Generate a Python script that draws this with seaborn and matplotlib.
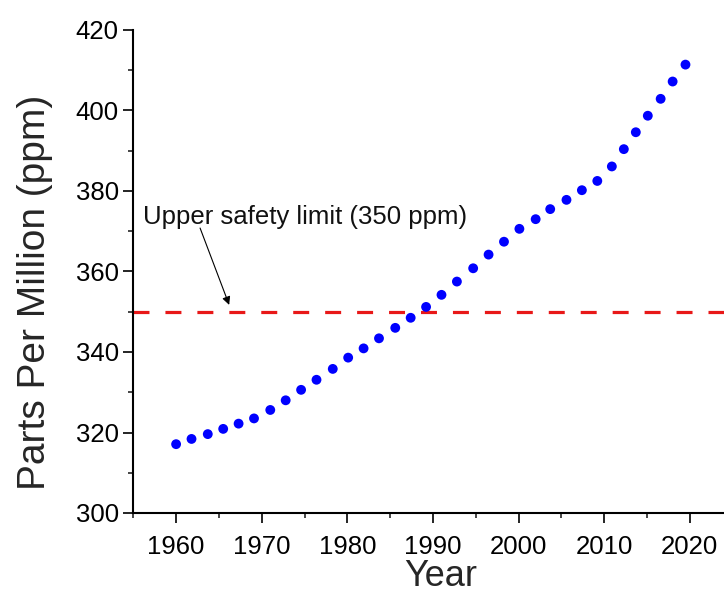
import matplotlib
matplotlib.use("Agg")
import matplotlib.pyplot as plt
from matplotlib.ticker import MultipleLocator
import pandas as pd
import seaborn as sns

# Atmospheric CO2 concentration, 1960-2020
years = [1960.0, 1961.8, 1963.7, 1965.5, 1967.3, 1969.1, 1971.0, 1972.8, 1974.6,
         1976.4, 1978.3, 1980.1, 1981.9, 1983.7, 1985.6, 1987.4, 1989.2, 1991.0,
         1992.8, 1994.7, 1996.5, 1998.3, 2000.1, 2002.0, 2003.7, 2005.6, 2007.4,
         2009.2, 2010.9, 2012.3, 2013.7, 2015.1, 2016.6, 2018.0, 2019.5]
ppm = [317.1, 318.4, 319.6, 320.9, 322.2, 323.5, 325.6, 328.0, 330.6,
       333.1, 335.8, 338.6, 340.9, 343.4, 346.0, 348.5, 351.2, 354.2,
       357.5, 360.8, 364.2, 367.4, 370.6, 373.0, 375.5, 377.8, 380.2,
       382.5, 386.1, 390.4, 394.6, 398.7, 402.9, 407.2, 411.4]

safety_limit = 350
limit_label = "Upper safety limit (350 ppm)"
x_ticks = [1960, 1970, 1980, 1990, 2000, 2010, 2020]
y_ticks = [300, 320, 340, 360, 380, 400, 420]

df = pd.DataFrame({"Year": years, "ppm": ppm})

sns.set_style("ticks")
plt.rcParams["font.family"] = ["Liberation Sans", "DejaVu Sans"]

fig = plt.figure(figsize=(7.24, 5.93), dpi=100)
ax = fig.add_axes([133.3 / 724, 1 - 513 / 593, (724 - 133.3) / 724, (513 - 30) / 593])

ax.axhline(safety_limit, color="#e81818", lw=2.3, dashes=(5, 5), zorder=1)
sns.scatterplot(data=df, x="Year", y="ppm", ax=ax, color="#0000ff", s=50,
                edgecolor="none", linewidth=0, zorder=3)

# label text and a thin pointer down to the limit line
ax.text(1956.15, 371.7, limit_label, fontsize=18.5, ha="left", va="baseline",
        color="#111111")
ax.annotate("", xy=(1966.2, 351.7), xytext=(1962.8, 370.8),
            arrowprops=dict(arrowstyle="-|>", color="black", lw=0.8,
                            mutation_scale=12, shrinkA=0, shrinkB=0))

ax.set_xlim(1955, 2024)
ax.set_ylim(300, 420)
ax.set_xticks(x_ticks)
ax.set_yticks(y_ticks)
ax.xaxis.set_minor_locator(MultipleLocator(5))
ax.yaxis.set_minor_locator(MultipleLocator(10))

for s in ("top", "right"):
    ax.spines[s].set_visible(False)
for s in ("left", "bottom"):
    ax.spines[s].set_linewidth(1.5)
    ax.spines[s].set_color("black")

ax.tick_params(axis="both", which="major", direction="out", length=7.5,
               width=1.2, labelsize=18.5, colors="black")
ax.tick_params(axis="both", which="minor", direction="out", length=3.5, width=1.2)
ax.tick_params(axis="x", which="major", pad=8.5)
ax.tick_params(axis="y", which="major", pad=3)

ax.set_xlabel("Year", fontsize=26, va="center")
ax.set_ylabel("Parts Per Million (ppm)", fontsize=28, va="center")
ax.xaxis.set_label_coords((441 - 133.3) / 590.7, -(577 - 513) / 483)
ax.yaxis.set_label_coords(-(133.3 - 35) / 590.7, (513 - 292) / 483)

fig.savefig("out.png", dpi=100, facecolor="white")
